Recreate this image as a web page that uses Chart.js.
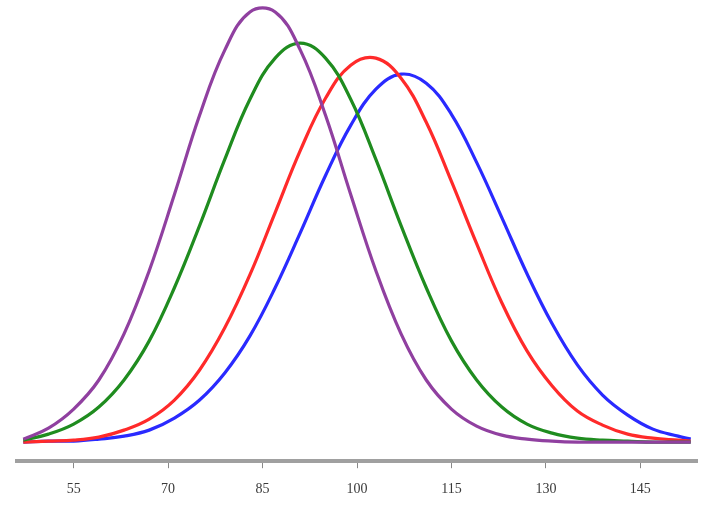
<!DOCTYPE html>
<html lang="en">
<head>
  <meta charset="UTF-8" />
  <title>Bell Curves</title>
  <script src="https://cdn.jsdelivr.net/npm/chart.js"></script>
  <style>
    html, body { margin: 0; padding: 0; background: #ffffff; }
    .chart-container { width: 720px; height: 505px; position: relative; }
  </style>
</head>
<body>
  <div class="chart-container">
    <canvas id="curveChart"></canvas>
  </div>

  <script>
    // x positions (score) shared by all four curves
    const scores = [47, 51, 55, 59, 63, 67, 71, 75, 79, 83, 87, 91, 95, 99,
                    103, 107, 111, 115, 119, 123, 127, 131, 135, 139, 143, 147, 151, 153];

    const purpleVals = [0.3, 1.4, 3.3, 6.2, 10.8, 17.1, 24.7, 32.6, 39.1, 42.9, 42.9, 39.1, 32.6, 24.7,
                        17.1, 10.8, 6.2, 3.3, 1.6, 0.7, 0.3, 0.1, 0, 0, 0, 0, 0, 0];
    const greenVals  = [0.2, 0.8, 1.8, 3.5, 6.2, 10.1, 15.4, 21.6, 28.2, 34.2, 38.3, 39.8, 38.3, 34.2,
                        28.2, 21.6, 15.4, 10.1, 6.2, 3.5, 1.8, 0.9, 0.4, 0.2, 0.1, 0, 0, 0];
    const redVals    = [0, 0.1, 0.2, 0.5, 1.2, 2.3, 4.2, 7.2, 11.4, 16.7, 22.9, 29.1, 34.3, 37.6,
                        38.3, 36.3, 31.9, 26.0, 19.8, 13.9, 9.1, 5.6, 3.1, 1.7, 0.8, 0.4, 0.2, 0.1];
    const blueVals   = [0, 0.1, 0.1, 0.3, 0.6, 1.2, 2.4, 4.2, 6.9, 10.6, 15.4, 20.9, 26.6, 31.6,
                        35.2, 36.7, 35.8, 32.7, 27.9, 22.4, 16.8, 11.8, 7.7, 4.7, 2.7, 1.3, 0.6, 0.3];

    const tickValues = [55, 70, 85, 100, 115, 130, 145];

    function toPoints(vals) {
      return scores.map((x, i) => ({ x: x, y: vals[i] }));
    }

    function curve(vals, color) {
      return {
        data: toPoints(vals),
        borderColor: color,
        borderWidth: 3.2,
        pointRadius: 0,
        fill: false,
        tension: 0.4
      };
    }

    const ctx = document.getElementById('curveChart').getContext('2d');

    new Chart(ctx, {
      type: 'line',
      data: {
        datasets: [
          curve(purpleVals, '#9040a0'),
          curve(greenVals, '#1f8c1f'),
          curve(redVals, '#ff2a2a'),
          curve(blueVals, '#2a2aff')
        ]
      },
      options: {
        responsive: true,
        maintainAspectRatio: false,
        animation: false,
        layout: { padding: { left: 17, right: 23, top: 0, bottom: -6 } },
        plugins: {
          legend: { display: false },
          tooltip: { enabled: false }
        },
        scales: {
          x: {
            type: 'linear',
            min: 46,
            max: 154,
            afterBuildTicks: (axis) => {
              axis.ticks = tickValues.map(v => ({ value: v }));
            },
            border: { display: true, color: '#a0a0a0', width: 4 },
            grid: {
              display: true,
              drawOnChartArea: false,
              drawTicks: true,
              tickLength: 7,
              tickWidth: 1,
              color: '#888888'
            },
            ticks: {
              padding: 13,
              color: '#3a3a3a',
              maxRotation: 0,
              font: { family: "'Liberation Serif', 'DejaVu Serif', serif", size: 14 }
            }
          },
          y: {
            display: false,
            min: -1.9,
            max: 44.1
          }
        }
      }
    });
  </script>
</body>
</html>
